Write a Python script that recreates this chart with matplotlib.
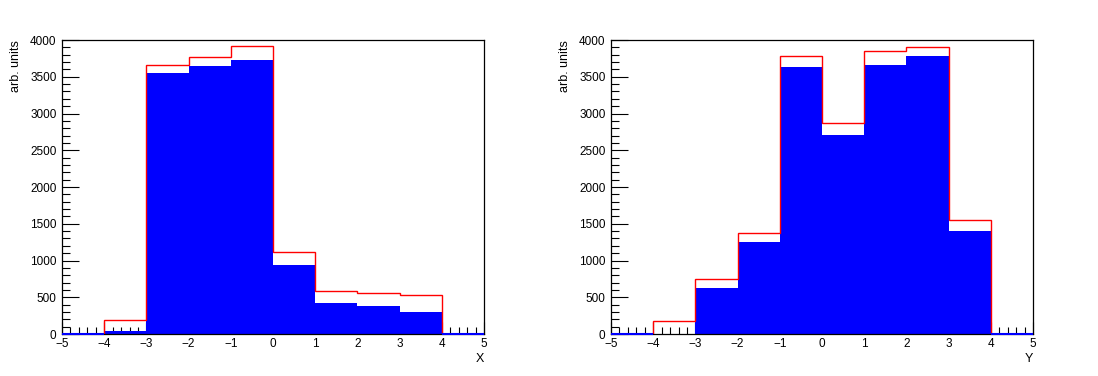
import numpy as np
import matplotlib
matplotlib.use("Agg")
import matplotlib.pyplot as plt
from matplotlib.ticker import MultipleLocator

plt.rcParams['font.family'] = ['Liberation Sans', 'DejaVu Sans']

edges = np.arange(-5, 6, 1)

# X distribution
x_red = [0, 190, 3660, 3769, 3918, 1112, 581, 558, 531, 0]
x_blue = [0, 35, 3551, 3646, 3728, 943, 426, 385, 304, 0]

# Y distribution
y_red = [0, 175, 748, 1374, 3778, 2866, 3846, 3905, 1546, 0]
y_blue = [0, 3, 626, 1256, 3633, 2707, 3660, 3786, 1401, 0]

fig = plt.figure(figsize=(10.98, 3.76), dpi=100)

panels = [
    (0.0565, x_red, x_blue, "X"),
    (0.5565, y_red, y_blue, "Y"),
]

for left, red, blue, name in panels:
    ax = fig.add_axes([left, 0.1117, 0.3843, 0.7819])
    ax.stairs(blue, edges, fill=True, color='#0000ff', lw=0, zorder=2)
    ax.stairs(red, edges, color='#ff0000', lw=1.0, baseline=None, zorder=2.2)
    # blue line on the axis where bins are empty
    b = np.asarray(blue)
    empty = b == 0
    ax.hlines(np.zeros(empty.sum()), edges[:-1][empty], edges[1:][empty],
              color='#0000ff', lw=1.5, zorder=3, clip_on=False)

    ax.set_xlim(-5, 5)
    ax.set_ylim(0, 4000)
    ax.xaxis.set_major_locator(MultipleLocator(1))
    ax.xaxis.set_minor_locator(MultipleLocator(0.2))
    ax.yaxis.set_major_locator(MultipleLocator(500))
    ax.yaxis.set_minor_locator(MultipleLocator(100))
    ax.tick_params(axis='both', which='both', direction='in', top=False, right=False,
                   labelsize=8.5, width=0.8)
    ax.tick_params(axis='y', which='major', length=12, pad=4)
    ax.tick_params(axis='y', which='minor', length=6)
    ax.tick_params(axis='x', which='major', length=9, pad=3)
    ax.tick_params(axis='x', which='minor', length=5)
    for s in ax.spines.values():
        s.set_linewidth(0.9)

    ax.set_xlabel(name, fontsize=9, loc='right', labelpad=2)
    ax.set_ylabel("arb. units", fontsize=9, loc='top', labelpad=6)

fig.savefig("out.png", dpi=100)
